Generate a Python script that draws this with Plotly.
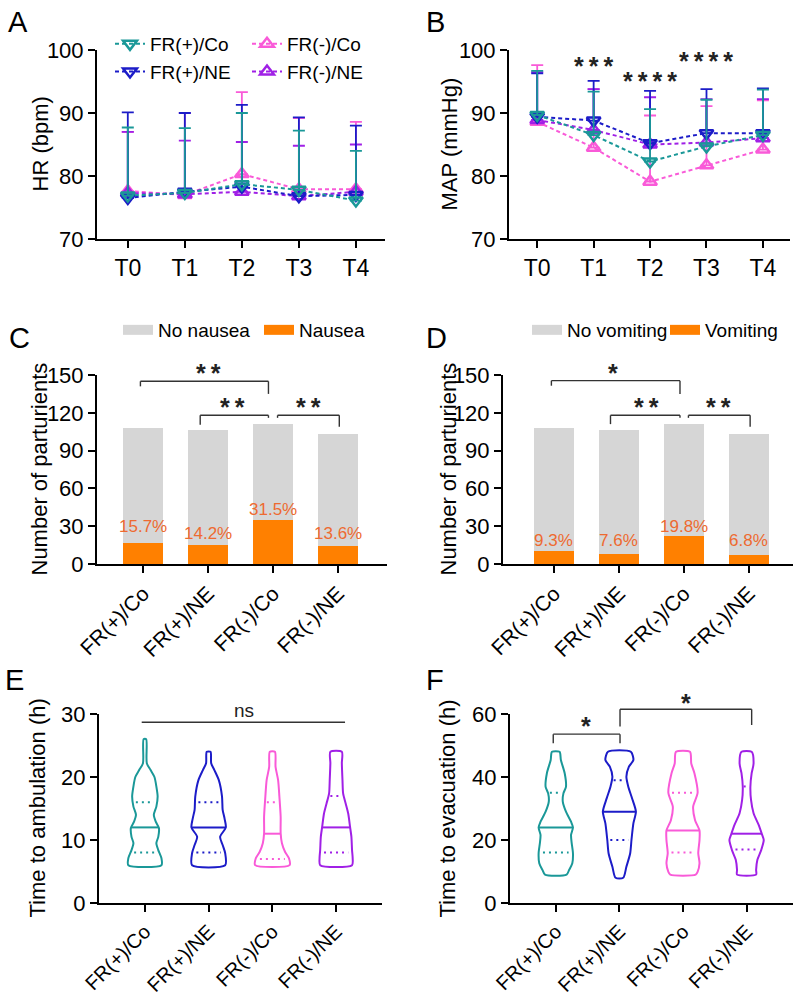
import numpy as np
import plotly.graph_objects as go

FONT = "Liberation Sans, Arial, sans-serif"
W, H = 794, 998

# ---------------- data ----------------
groups = ["FR(+)/Co", "FR(+)/NE", "FR(-)/Co", "FR(-)/NE"]
timepoints = ["T0", "T1", "T2", "T3", "T4"]

# Panel A: heart rate (mean, SD)
hr_co_pos_mean = [76.9, 77.3, 78.7, 77.8, 76.1]
hr_co_pos_sd = [10.8, 10.3, 11.3, 9.4, 7.9]
hr_ne_pos_mean = [76.5, 77.5, 78.3, 76.8, 77.0]
hr_ne_pos_sd = [13.6, 12.5, 13.0, 12.5, 11.0]
hr_co_neg_mean = [77.6, 77.0, 80.3, 77.9, 77.9]
hr_co_neg_sd = [9.4, 13.0, 13.0, 11.3, 10.7]
hr_ne_neg_mean = [77.3, 77.1, 77.5, 76.8, 77.5]
hr_ne_neg_sd = [9.7, 8.5, 7.9, 8.0, 7.5]

# Panel B: mean arterial pressure (mean, SD)
map_co_pos_mean = [89.7, 86.5, 82.3, 84.7, 86.5]
map_co_pos_sd = [7.0, 6.9, 8.3, 7.4, 7.2]
map_ne_pos_mean = [89.4, 88.8, 85.2, 86.8, 86.8]
map_ne_pos_sd = [6.9, 6.3, 8.3, 7.0, 7.1]
map_co_neg_mean = [88.6, 84.5, 79.1, 81.7, 84.2]
map_co_neg_sd = [9.0, 9.3, 10.5, 9.4, 7.8]
map_ne_neg_mean = [88.9, 87.3, 85.0, 85.3, 86.0]
map_ne_neg_sd = [7.6, 6.5, 7.5, 6.9, 6.2]
map_stars = ["", "***", "****", "****", ""]
map_star_y = [None, 98.4, 96.0, 99.2, None]

# Panel C / D: counts
group_totals = [108, 106, 111, 103]
nausea_yes = [17, 15, 35, 14]
nausea_pct = ["15.7%", "14.2%", "31.5%", "13.6%"]
vomit_yes = [10, 8, 22, 7]
vomit_pct = ["9.3%", "7.6%", "19.8%", "6.8%"]
nausea_label_y = [29.5, 24.5, 43, 24]
vomit_label_y = [19, 19, 30, 19]

# Panel E: violin outlines (levels in h, half-widths in category units)
amb_levels = [
    [6, 7.1, 8.4, 9.5, 10.5, 11.9, 12.9, 14, 15.3, 16.9, 18.5, 20, 21.1, 22.2, 26],
    [6, 7.9, 9.2, 10.5, 12, 13.4, 14.8, 16.9, 19.5, 21.1, 22.2, 24],
    [6, 7.1, 8.1, 9.5, 11.06, 13.7, 16.9, 19.5, 21.6, 24],
    [6, 7.1, 8.4, 10.5, 12, 14.2, 15.8, 17.4, 19.5, 22.2, 24],
]
amb_width = [
    [0.26, 0.26, 0.21, 0.18, 0.21, 0.22, 0.17, 0.14, 0.18, 0.20, 0.18, 0.15, 0.09, 0.03, 0.02],
    [0.26, 0.26, 0.22, 0.18, 0.27, 0.25, 0.22, 0.21, 0.16, 0.09, 0.04, 0.03],
    [0.27, 0.26, 0.20, 0.15, 0.13, 0.13, 0.11, 0.09, 0.05, 0.04],
    [0.25, 0.26, 0.25, 0.24, 0.22, 0.19, 0.15, 0.11, 0.10, 0.09, 0.09],
]
amb_median = [12, 12, 11, 12]
amb_q1 = [8, 8, 7, 8]
amb_q3 = [16, 16, 16, 17]

# Panel F
evac_levels = [
    [9, 10.5, 12.6, 15.8, 19, 21.6, 24, 25.8, 29, 32.2, 34.8, 36.9, 41.2, 45.4, 48],
    [8, 11.5, 15.8, 20, 25.3, 29, 33.2, 36.9, 40.1, 43.3, 45.4, 48],
    [9, 9.9, 12.6, 15.8, 20, 23, 26.3, 30.6, 35, 41.2, 44.3, 48],
    [9, 10.5, 13.7, 16.8, 20, 21.9, 24.8, 28.5, 32.7, 36.9, 41.2, 44.3, 48],
]
evac_width = [
    [0.17, 0.21, 0.26, 0.27, 0.25, 0.24, 0.27, 0.24, 0.16, 0.11, 0.12, 0.16, 0.14, 0.08, 0.06],
    [0.06, 0.11, 0.17, 0.19, 0.22, 0.26, 0.20, 0.14, 0.11, 0.15, 0.22, 0.18],
    [0.20, 0.23, 0.26, 0.24, 0.26, 0.26, 0.19, 0.16, 0.23, 0.18, 0.13, 0.11],
    [0.15, 0.15, 0.17, 0.23, 0.27, 0.24, 0.19, 0.11, 0.07, 0.06, 0.08, 0.11, 0.08],
]
evac_median = [24, 29, 23, 22]
evac_q1 = [16, 20, 16, 17]
evac_q3 = [35, 39, 35, 37]

# significance comparisons: (x0, x1, bar level, left-end, right-end, label, label x, label y)
sig_C = [(-0.04, 1.93, 145, 141, 135, "**", 1.0, 156),
         (0.88, 1.93, 118, 110.5, 116, "**", 1.38, 129),
         (2.07, 3.02, 118, 116, 109, "**", 2.54, 129)]
sig_D = [(-0.04, 1.94, 145.5, 141.5, 135, "*", 0.91, 156),
         (0.87, 1.94, 118, 111, 116, "**", 1.43, 129),
         (2.07, 3.02, 118, 116, 109, "**", 2.53, 129)]
sig_E = [(-0.05, 3.14, 28.7, None, None, "ns", 1.55, 30.6)]
sig_F = [(-0.04, 1.01, 53.6, 50.7, 50.7, "*", 0.48, 58.1),
         (1.01, 3.08, 61.5, 56.0, 56.5, "*", 2.04, 65.5)]

# ---------------- style ----------------
COL = {"FR(+)/Co": "#1a9898", "FR(+)/NE": "#1c1cc8",
       "FR(-)/Co": "#f95ad8", "FR(-)/NE": "#a020e6"}
SYM = {"FR(+)/Co": "triangle-down-open", "FR(+)/NE": "triangle-down-open",
       "FR(-)/Co": "triangle-up-open", "FR(-)/NE": "triangle-up-open"}
GRAY = "#d6d6d6"
ORANGE = "#ff8000"
PCT = "#ee6a30"
STAR = "#222222"
STAR_FONT = dict(family=FONT, size=25, color=STAR)

fig = go.Figure()

def px2x(p):
    return p / W

def px2y(p):
    return 1 - p / H

# ---------- line panels ----------
hr = {"FR(+)/Co": (hr_co_pos_mean, hr_co_pos_sd), "FR(+)/NE": (hr_ne_pos_mean, hr_ne_pos_sd),
      "FR(-)/Co": (hr_co_neg_mean, hr_co_neg_sd), "FR(-)/NE": (hr_ne_neg_mean, hr_ne_neg_sd)}
mp = {"FR(+)/Co": (map_co_pos_mean, map_co_pos_sd), "FR(+)/NE": (map_ne_pos_mean, map_ne_pos_sd),
      "FR(-)/Co": (map_co_neg_mean, map_co_neg_sd), "FR(-)/NE": (map_ne_neg_mean, map_ne_neg_sd)}
draw_order = ["FR(-)/Co", "FR(-)/NE", "FR(+)/NE", "FR(+)/Co"]
legend_of = {"FR(+)/Co": "legend", "FR(+)/NE": "legend", "FR(-)/Co": "legend2", "FR(-)/NE": "legend2"}
rank = {"FR(+)/Co": 1, "FR(+)/NE": 2, "FR(-)/Co": 1, "FR(-)/NE": 2}
tx = list(range(len(timepoints)))
for data, xa, ya, showleg in [(hr, "x", "y", True), (mp, "x2", "y2", False)]:
    for g in draw_order:
        m, s = data[g]
        fig.add_trace(go.Scatter(
            x=tx, y=m, name=g, mode="lines+markers", xaxis=xa, yaxis=ya,
            line=dict(color=COL[g], width=2, dash="4px,3px"),
            marker=dict(symbol=SYM[g], size=12, color=COL[g], line=dict(width=2.5, color=COL[g])),
            error_y=dict(type="data", array=s, arrayminus=[0] * len(s), symmetric=False,
                         color=COL[g], thickness=1.8, width=6),
            showlegend=showleg, legend=legend_of[g], legendrank=rank[g], cliponaxis=False))

# ---------- stacked bars ----------
gx = list(range(len(groups)))
for yes, pct, lab_y, xa, ya, leg, names in [
        (nausea_yes, nausea_pct, nausea_label_y, "x3", "y3", "legend3", ("No nausea", "Nausea")),
        (vomit_yes, vomit_pct, vomit_label_y, "x4", "y4", "legend4", ("No vomiting", "Vomiting"))]:
    no = [t - y for t, y in zip(group_totals, yes)]
    fig.add_trace(go.Bar(x=gx, y=yes, width=0.62, marker=dict(color=ORANGE, line=dict(width=0)),
                         xaxis=xa, yaxis=ya, showlegend=False))
    fig.add_trace(go.Bar(x=gx, y=no, width=0.62, marker=dict(color=GRAY, line=dict(width=0)),
                         xaxis=xa, yaxis=ya, showlegend=False))
    for nm, c, r in [(names[0], GRAY, 1), (names[1], ORANGE, 2)]:
        fig.add_trace(go.Scatter(x=[None], y=[None], mode="lines", name=nm,
                                 line=dict(color=c, width=10), xaxis=xa, yaxis=ya,
                                 legend=leg, legendrank=r))
    for i, (p, ly) in enumerate(zip(pct, lab_y)):
        fig.add_annotation(x=gx[i], y=ly, xref=xa, yref=ya, text=p, showarrow=False,
                           xanchor="center", yanchor="middle",
                           font=dict(family=FONT, size=17, color=PCT))

# ---------- violins ----------
for levels, widths, med, q1, q3, xa, ya in [
        (amb_levels, amb_width, amb_median, amb_q1, amb_q3, "x5", "y5"),
        (evac_levels, evac_width, evac_median, evac_q1, evac_q3, "x6", "y6")]:
    for i, g in enumerate(groups):
        ys = levels[i]
        ws = widths[i]
        xs = [i + w for w in ws] + [i - w for w in ws[::-1]] + [i + ws[0]]
        yy = list(ys) + list(ys[::-1]) + [ys[0]]
        fig.add_trace(go.Scatter(x=xs, y=yy, mode="lines", xaxis=xa, yaxis=ya,
                                 line=dict(color=COL[g], width=2, shape="spline", smoothing=0.7),
                                 showlegend=False, hoverinfo="skip"))
        wm = float(np.interp(med[i], ys, ws))
        fig.add_trace(go.Scatter(x=[i - wm, i + wm], y=[med[i], med[i]], mode="lines",
                                 xaxis=xa, yaxis=ya, line=dict(color=COL[g], width=2),
                                 showlegend=False, hoverinfo="skip"))
        for q in (q1[i], q3[i]):
            wq = float(np.interp(q, ys, ws)) * 0.75
            fig.add_trace(go.Scatter(x=[i - wq, i + wq], y=[q, q], mode="lines",
                                     xaxis=xa, yaxis=ya, line=dict(color=COL[g], width=2, dash="2px,4px"),
                                     showlegend=False, hoverinfo="skip"))

# ---------- axes ----------
def axstyle(**kw):
    d = dict(showline=True, linecolor="black", linewidth=2, ticks="outside", ticklen=7,
             tickwidth=2, tickcolor="black", showgrid=False, zeroline=False, fixedrange=True,
             automargin=False, tickfont=dict(family=FONT, size=22, color="black"))
    d.update(kw)
    return d

yA = [px2y(239), px2y(50)]
yC = [px2y(564), px2y(375)]
yE = [px2y(903), px2y(714)]

AX = {
    "x": dict(domain=[px2x(97), px2x(385)], range=[-0.54, 4.51]),
    "x2": dict(domain=[px2x(509), px2x(790)], range=[-0.5, 4.48]),
    "x3": dict(domain=[px2x(97), px2x(387)], range=[-0.708, 3.754]),
    "x4": dict(domain=[px2x(503), px2x(793)], range=[-0.785, 3.68]),
    "x5": dict(domain=[px2x(99), px2x(382)], range=[-0.72, 3.72]),
    "x6": dict(domain=[px2x(510), px2x(793)], range=[-0.72, 3.73]),
    "y": dict(domain=yA, range=[70, 100]),
    "y2": dict(domain=yA, range=[70, 100]),
    "y3": dict(domain=yC, range=[0, 150]),
    "y4": dict(domain=yC, range=[0, 150]),
    "y5": dict(domain=yE, range=[0, 30]),
    "y6": dict(domain=yE, range=[0, 60]),
}

def frac(ax, v):
    r0, r1 = AX[ax]["range"]
    return (v - r0) / (r1 - r0)

def star_text(lab):
    return "<b>" + "\u2009".join(lab) + "</b>"

# ---------- significance marks ----------
def add_sig(sig, xa, ya):
    for (x0, x1, lv, yl, yr, lab, lx, ly) in sig:
        if yl is None:
            segs = [(x0, lv, x1, lv)]
        else:
            segs = [(x0, yl, x0, lv), (x0, lv, x1, lv), (x1, lv, x1, yr)]
        for (a, b, c, d) in segs:
            fig.add_shape(type="line", xref=xa + " domain", yref=ya + " domain",
                          x0=frac(xa, a), y0=frac(ya, b), x1=frac(xa, c), y1=frac(ya, d),
                          line=dict(color="#333333", width=1.4))
        if lab == "ns":
            fig.add_annotation(x=lx, y=frac(ya, ly), xref=xa, yref=ya + " domain", text=lab,
                               showarrow=False, xanchor="center", yanchor="middle",
                               font=dict(family=FONT, size=19, color=STAR))
        else:
            fig.add_annotation(x=lx, y=frac(ya, ly), xref=xa, yref=ya + " domain",
                               text=star_text(lab), showarrow=False, xanchor="center",
                               yanchor="middle", yshift=-6, font=STAR_FONT)

add_sig(sig_C, "x3", "y3")
add_sig(sig_D, "x4", "y4")
add_sig(sig_E, "x5", "y5")
add_sig(sig_F, "x6", "y6")

for i, (st, sy) in enumerate(zip(map_stars, map_star_y)):
    if st:
        fig.add_annotation(x=i, y=frac("y2", sy), xref="x2", yref="y2 domain", text=star_text(st),
                           showarrow=False, xanchor="center", yanchor="middle", yshift=-6,
                           font=STAR_FONT)

big = dict(family=FONT, size=23, color="black")
rot = dict(family=FONT, size=21, color="black")
rot2 = dict(family=FONT, size=20, color="black")
layout = dict(
    width=W, height=H, margin=dict(l=0, r=0, t=0, b=0, autoexpand=False),
    paper_bgcolor="white", plot_bgcolor="white", barmode="stack",
    font=dict(family=FONT, color="black"),
    xaxis=axstyle(**AX["x"], tickvals=tx, ticktext=timepoints, anchor="y", tickfont=big),
    yaxis=axstyle(**AX["y"], tickvals=[70, 80, 90, 100], anchor="x"),
    xaxis2=axstyle(**AX["x2"], tickvals=tx, ticktext=timepoints, anchor="y2", tickfont=big),
    yaxis2=axstyle(**AX["y2"], tickvals=[70, 80, 90, 100], anchor="x2"),
    xaxis3=axstyle(**AX["x3"], tickvals=gx, ticktext=groups, tickangle=-45, anchor="y3", tickfont=rot),
    yaxis3=axstyle(**AX["y3"], tickvals=[0, 30, 60, 90, 120, 150], anchor="x3"),
    xaxis4=axstyle(**AX["x4"], tickvals=gx, ticktext=groups, tickangle=-45, anchor="y4", tickfont=rot),
    yaxis4=axstyle(**AX["y4"], tickvals=[0, 30, 60, 90, 120, 150], anchor="x4"),
    xaxis5=axstyle(**AX["x5"], tickvals=gx, ticktext=groups, tickangle=-45, anchor="y5", tickfont=rot2),
    yaxis5=axstyle(**AX["y5"], tickvals=[0, 10, 20, 30], anchor="x5"),
    xaxis6=axstyle(**AX["x6"], tickvals=gx, ticktext=groups, tickangle=-45, anchor="y6", tickfont=rot2),
    yaxis6=axstyle(**AX["y6"], tickvals=[0, 20, 40, 60], anchor="x6"),
    legend=dict(x=px2x(110), y=px2y(25), xanchor="left", yanchor="top", bgcolor="rgba(0,0,0,0)",
                traceorder="normal", font=dict(family=FONT, size=19, color="black"),
                tracegroupgap=0, itemwidth=30),
    legend2=dict(x=px2x(247), y=px2y(25), xanchor="left", yanchor="top", bgcolor="rgba(0,0,0,0)",
                 traceorder="normal", font=dict(family=FONT, size=19, color="black"),
                 tracegroupgap=0, itemwidth=30),
    legend3=dict(x=px2x(118), y=px2y(311), xanchor="left", yanchor="top", orientation="h",
                 traceorder="normal", bgcolor="rgba(0,0,0,0)", entrywidth=96,
                 font=dict(family=FONT, size=19, color="black"), itemwidth=30),
    legend4=dict(x=px2x(527), y=px2y(311), xanchor="left", yanchor="top", orientation="h",
                 traceorder="normal", bgcolor="rgba(0,0,0,0)", entrywidth=93,
                 font=dict(family=FONT, size=19, color="black"), itemwidth=30),
)
fig.update_layout(**layout)

# panel letters
for lab, x, y in [("A", 6, 4), ("B", 424, 4), ("C", 7, 320), ("D", 424, 320), ("E", 3, 662), ("F", 424, 662)]:
    fig.add_annotation(x=px2x(x), y=px2y(y), xref="paper", yref="paper", text=lab, showarrow=False,
                       xanchor="left", yanchor="top", font=dict(family=FONT, size=29, color="black"))

# y-axis titles
for txt, x, dom in [("HR (bpm)", 40, yA), ("MAP (mmHg)", 449, yA),
                    ("Number of parturients", 39, yC), ("Number of parturients", 448, yC),
                    ("Time to ambulation (h)", 37, yE), ("Time to evacuation (h)", 447, yE)]:
    fig.add_annotation(x=px2x(x), y=(dom[0] + dom[1]) / 2, xref="paper", yref="paper", text=txt,
                       textangle=-90, showarrow=False, xanchor="center", yanchor="middle",
                       font=dict(family=FONT, size=22, color="black"))

fig.write_html("out.html")
